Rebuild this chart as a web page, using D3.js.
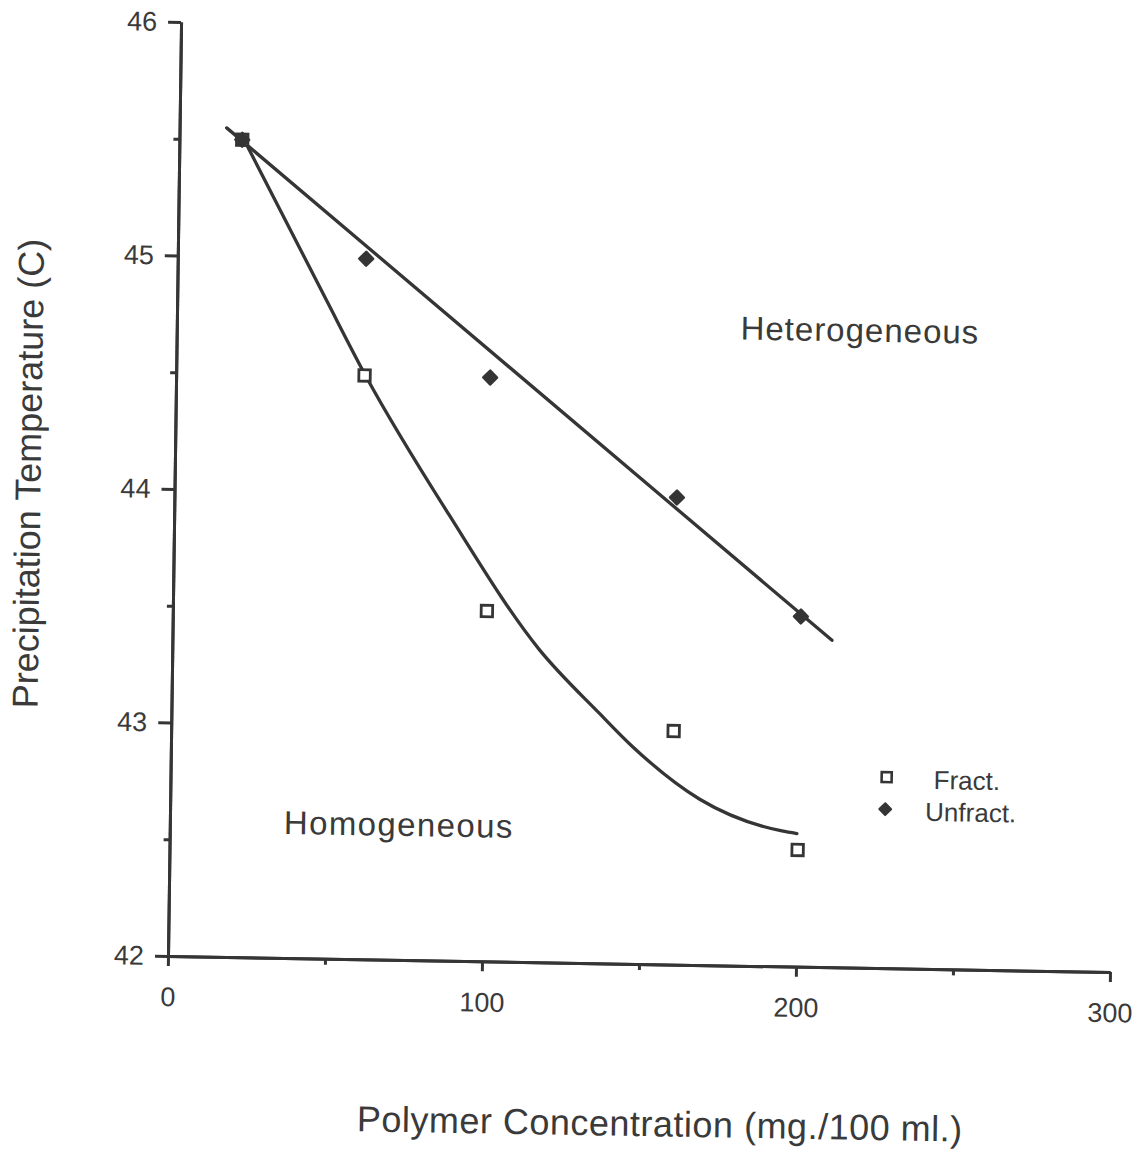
<!DOCTYPE html>
<html>
<head>
<meta charset="utf-8">
<script src="https://cdn.jsdelivr.net/npm/d3@7/dist/d3.min.js"></script>
<style>
  html, body { margin: 0; padding: 0; background: #fff; }
  svg { display: block; }
  text { font-family: "Liberation Sans", Arial, Helvetica, sans-serif; fill: #3a3a3a; }
</style>
</head>
<body>
<svg id="chart" width="1135" height="1151"></svg>
<script>
// Polymer concentration (mg./100 ml.) at which precipitation was measured
const concentration = [20, 60, 100, 160, 200];
// Precipitation temperature (C)
const fractTemp   = [45.5, 44.5, 43.5, 43.0, 42.5];
const unfractTemp = [45.5, 45.0, 44.5, 44.0, 43.5];

// Straight fit through the unfractionated points (end points)
const unfractFitX = [15, 210];
const unfractFitY = [45.55, 43.40];

// Smooth curve drawn through the fractionated points
const fractCurveX = [21.8, 47.5, 60.3, 87.5, 116.8, 136.3, 147.0, 168.6, 194.9, 199.7];
const fractCurveY = [45.47, 44.82, 44.50, 43.91, 43.34, 43.07, 42.93, 42.71, 42.58, 42.57];

// Axis ticks
const xMajorTicks = [0, 100, 200, 300];
const xMinorTicks = [50, 150, 250];
const yMajorTicks = [42, 43, 44, 45, 46];
const yMinorTicks = [42.5, 43.5, 44.5, 45.5];

const ink = "#353535";
const svg = d3.select("#chart");

const x = d3.scaleLinear().domain([0, 300]).range([168, 1110]);
const y = d3.scaleLinear().domain([42, 46]).range([956, 22]);

// The printed page sits slightly askew
const g = svg.append("g")
  .attr("transform", "matrix(1,0.017,-0.014,1,13.38,-2.856)");

function styleAxis(sel) {
  sel.select(".domain").attr("stroke", ink).attr("stroke-width", 3);
  sel.selectAll(".tick line").attr("stroke", ink).attr("stroke-width", 3);
  sel.selectAll(".tick text")
    .attr("fill", "#3a3a3a")
    .style("font-family", '"Liberation Sans", Arial, sans-serif')
    .style("font-size", "27px");
}

// X axis
g.append("g")
  .attr("transform", `translate(0,${y(42)})`)
  .call(d3.axisBottom(x).tickValues(xMinorTicks).tickSize(6).tickSizeOuter(0).tickFormat(""))
  .call(styleAxis);
g.append("g")
  .attr("transform", `translate(0,${y(42)})`)
  .call(d3.axisBottom(x).tickValues(xMajorTicks).tickSize(10).tickSizeOuter(0).tickPadding(21).tickFormat(d3.format("d")))
  .call(styleAxis);

// Y axis
g.append("g")
  .attr("transform", `translate(${x(0)},0)`)
  .call(d3.axisLeft(y).tickValues(yMinorTicks).tickSize(6).tickSizeOuter(0).tickFormat(""))
  .call(styleAxis);
g.append("g")
  .attr("transform", `translate(${x(0)},0)`)
  .call(d3.axisLeft(y).tickValues(yMajorTicks).tickSize(13).tickSizeOuter(0).tickPadding(11).tickFormat(d3.format("d")))
  .call(styleAxis);

// Unfractionated fit line
const fitLine = d3.line().x(d => x(d[0])).y(d => y(d[1]));
g.append("path")
  .datum(d3.zip(unfractFitX, unfractFitY))
  .attr("d", fitLine)
  .attr("fill", "none")
  .attr("stroke", ink)
  .attr("stroke-width", 3.3)
  .attr("stroke-linecap", "round");

// Fractionated curve
const curve = d3.line().x(d => x(d[0])).y(d => y(d[1])).curve(d3.curveMonotoneX);
g.append("path")
  .datum(d3.zip(fractCurveX, fractCurveY))
  .attr("d", curve)
  .attr("fill", "none")
  .attr("stroke", ink)
  .attr("stroke-width", 3.3)
  .attr("stroke-linecap", "round");

// Markers
const squarePath = d3.symbol().type(d3.symbolSquare).size(130)();
const diamondPath = d3.symbol().type(d3.symbolSquare).size(95)();

g.selectAll(".fract")
  .data(d3.zip(concentration, fractTemp))
  .join("path")
  .attr("class", "fract")
  .attr("d", squarePath)
  .attr("transform", d => `translate(${x(d[0])},${y(d[1])})`)
  .attr("fill", "#fff")
  .attr("stroke", ink)
  .attr("stroke-width", 2.8);

g.selectAll(".unfract")
  .data(d3.zip(concentration, unfractTemp))
  .join("path")
  .attr("class", "unfract")
  .attr("d", diamondPath)
  .attr("transform", d => `translate(${x(d[0])},${y(d[1])}) rotate(45)`)
  .attr("fill", ink)
  .attr("stroke", ink)
  .attr("stroke-width", 2.5)
  .attr("stroke-linejoin", "round");

// Region labels
g.append("text")
  .attr("x", 851).attr("y", 330)
  .attr("text-anchor", "middle")
  .style("font-size", "33px")
  .style("letter-spacing", "1px")
  .text("Heterogeneous");
g.append("text")
  .attr("x", 397).attr("y", 832)
  .attr("text-anchor", "middle")
  .style("font-size", "33px")
  .style("letter-spacing", "1.4px")
  .text("Homogeneous");

// Legend
const legend = g.append("g").attr("transform", "translate(884,765)");
legend.append("path")
  .attr("d", d3.symbol().type(d3.symbolSquare).size(100)())
  .attr("fill", "#fff").attr("stroke", ink).attr("stroke-width", 2.6);
legend.append("path")
  .attr("d", d3.symbol().type(d3.symbolSquare).size(70)())
  .attr("transform", "translate(-1,32) rotate(45)")
  .attr("fill", ink).attr("stroke", ink).attr("stroke-width", 2).attr("stroke-linejoin", "round");
legend.append("text").attr("x", 47).attr("y", 11).style("font-size", "26px").text("Fract.");
legend.append("text").attr("x", 39).attr("y", 43).style("font-size", "26px").text("Unfract.");

// Axis titles
g.append("text")
  .attr("x", 662).attr("y", 1128)
  .attr("text-anchor", "middle")
  .style("font-size", "36px")
  .style("letter-spacing", "0.5px")
  .text("Polymer Concentration (mg./100 ml.)");
g.append("text")
  .attr("transform", "translate(34,476) rotate(-90)")
  .attr("text-anchor", "middle")
  .style("font-size", "36px")
  .text("Precipitation Temperature (C)");
</script>
</body>
</html>
